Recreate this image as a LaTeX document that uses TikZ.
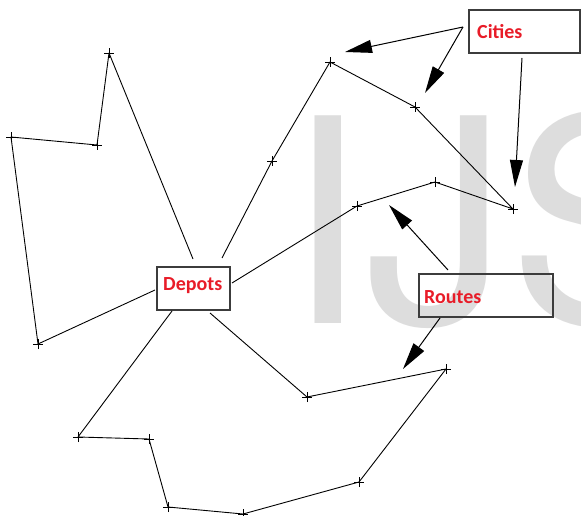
\documentclass[tikz,border=0pt]{standalone}
\usepackage{fontspec}
\newfontfamily\lblfont{Carlito}
\newfontfamily\wmfont{TeX Gyre Heros}
\usetikzlibrary{arrows.meta}
\definecolor{lblred}{RGB}{232,28,40}
\definecolor{wmgray}{RGB}{221,221,221}
\definecolor{boxgray}{RGB}{60,60,60}
\tikzset{
  route/.style={line width=0.9pt, black, line join=round},
  callout/.style={line width=1pt, black, -{Triangle[length=27pt,width=13pt]}},
  box/.style={draw=boxgray, line width=1.3pt, inner sep=0, minimum height=43pt},
  lbl/.style={anchor=base west, inner sep=0, text=lblred, font=\lblfont\bfseries\fontsize{20}{22}\selectfont},
  crossmark/.style={line width=0.9pt, black}
}
\begin{document}
\begin{tikzpicture}[x=1pt,y=-1pt]
\useasboundingbox (0,0) rectangle (581,516);
\begin{scope}
  \clip (0,0) rectangle (581,516);
  \node[anchor=base west, inner sep=0, text=wmgray, font=\wmfont\fontsize{285}{300}\selectfont] (wm) at (286.5,323) {IJS};
\end{scope}

% cities
\coordinate (A) at (109,53);
\coordinate (B) at (97,145);
\coordinate (C) at (11,137);
\coordinate (D) at (38,344);
\coordinate (E) at (272,161);
\coordinate (F) at (330,62);
\coordinate (G) at (415,107);
\coordinate (H) at (513,209);
\coordinate (I) at (435,182);
\coordinate (J) at (357,206);
\coordinate (K) at (307,397);
\coordinate (L) at (446,369);
\coordinate (M) at (359,482);
\coordinate (N) at (243,514);
\coordinate (O) at (168,507);
\coordinate (P) at (149,439);
\coordinate (Q) at (78,437);

% boxes
\node[box, minimum width=73pt] (depot) at (193.5,288.5) {};
\node[box, minimum width=111pt] (citybox) at (524.5,31.5) {};
\node[box, minimum width=134pt] (routebox) at (486,295.5) {};
\node[lbl] (deptext) at (163,290.5) {Depots};
\node[lbl] (citytext) at (477,39) {Cities};
\node[lbl] (routetext) at (424,303) {Routes};

% depot attachment points
\coordinate (dA) at (193,259);
\coordinate (dE) at (222,258);
\coordinate (dJ) at (232,283);
\coordinate (dD) at (155,290);
\coordinate (dQ) at (172,311);
\coordinate (dK) at (210,313);

% routes
\draw[route] (dA) -- (A) -- (B) -- (C) -- (D) -- (dD);
\draw[route] (dE) -- (E) -- (F) -- (G) -- (H) -- (I) -- (J) -- (dJ);
\draw[route] (dQ) -- (Q) -- (P) -- (O) -- (N) -- (M) -- (L) -- (K) -- (dK);

% crosses
\foreach \p in {A,B,C,D,E,F,G,H,I,J,K,L,M,N,O,P,Q}
  \draw[crossmark] ([xshift=-5pt]\p) -- ([xshift=5pt]\p) ([yshift=-5pt]\p) -- ([yshift=5pt]\p);

% callout arrows
\coordinate (c1) at (463,27);
\coordinate (c1t) at (345,52);
\coordinate (c2t) at (425,93);
\coordinate (c3) at (522,58);
\coordinate (c3t) at (515,187);
\coordinate (r1) at (448,270);
\coordinate (r1t) at (389,205);
\coordinate (r2) at (440,318);
\coordinate (r2t) at (403,369);
\draw[callout] (c1) -- (c1t);
\draw[callout] (c1) -- (c2t);
\draw[callout] (c3) -- (c3t);
\draw[callout] (r1) -- (r1t);
\draw[callout] (r2) -- (r2t);
\end{tikzpicture}
\end{document}
